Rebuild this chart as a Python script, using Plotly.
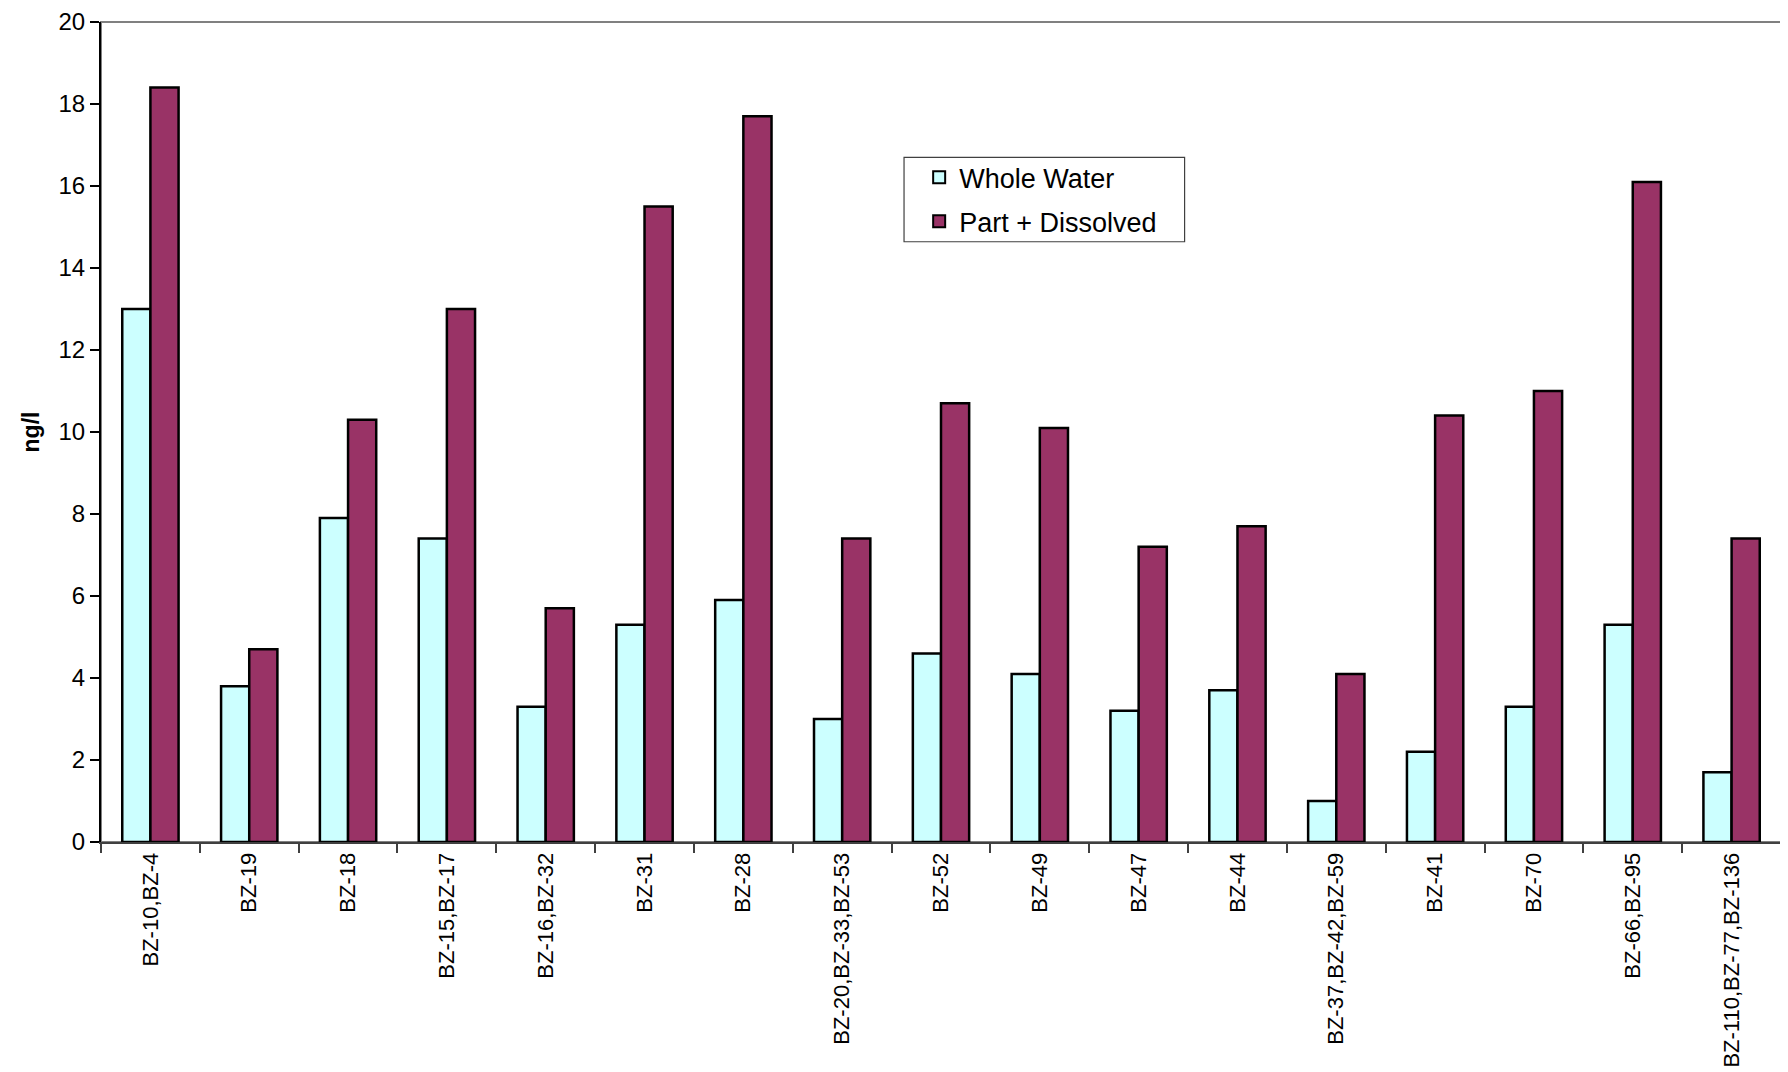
import plotly.graph_objects as go

categories = ["BZ-10,BZ-4", "BZ-19", "BZ-18", "BZ-15,BZ-17", "BZ-16,BZ-32", "BZ-31", "BZ-28",
              "BZ-20,BZ-33,BZ-53", "BZ-52", "BZ-49", "BZ-47", "BZ-44", "BZ-37,BZ-42,BZ-59",
              "BZ-41", "BZ-70", "BZ-66,BZ-95", "BZ-110,BZ-77,BZ-136"]
whole_water = [13.0, 3.8, 7.9, 7.4, 3.3, 5.3, 5.9, 3.0, 4.6, 4.1, 3.2, 3.7, 1.0, 2.2, 3.3, 5.3, 1.7]
part_dissolved = [18.4, 4.7, 10.3, 13.0, 5.7, 15.5, 17.7, 7.4, 10.7, 10.1, 7.2, 7.7, 4.1, 10.4, 11.0, 16.1, 7.4]
y_ticks = [0, 2, 4, 6, 8, 10, 12, 14, 16, 18, 20]

fig = go.Figure()
fig.add_trace(go.Bar(x=categories, y=whole_water, name="Whole Water", legendgroup="a",
                     marker=dict(color="#CCFFFF", line=dict(color="black", width=2.5))))
fig.add_trace(go.Bar(x=categories, y=part_dissolved, name="Part + Dissolved", legendgroup="b",
                     marker=dict(color="#993366", line=dict(color="black", width=2.5))))

fig.update_layout(
    width=1780, height=1064,
    margin=dict(l=93, r=7, t=14, b=230, autoexpand=False),
    paper_bgcolor="white", plot_bgcolor="white",
    barmode="group", bargap=0.43, bargroupgap=0,
    font=dict(family="Liberation Sans, Arial, sans-serif", color="black"),
    showlegend=True,
    legend=dict(x=0.487, y=0.840, xanchor="left", yanchor="top",
                borderwidth=0, bgcolor="rgba(0,0,0,0)",
                font=dict(size=27), itemsizing="constant",
                tracegroupgap=6, itemwidth=30),
    shapes=[
        dict(type="rect", xref="paper", yref="paper", x0=0, y0=0, x1=1, y1=1,
             line=dict(color="#808080", width=2), layer="below"),
        dict(type="rect", xref="paper", yref="paper", x0=0.478, y0=0.732, x1=0.645, y1=0.835,
             line=dict(color="#404040", width=1.2), fillcolor="white", layer="below"),
    ],
)
fig.update_xaxes(
    type="category", tickangle=-90, tickfont=dict(size=22), automargin=False,
    showline=True, linecolor="#404040", linewidth=2,
    ticks="outside", tickson="boundaries", ticklen=9, tickcolor="#404040", tickwidth=1.5,
    showgrid=False, zeroline=False,
)
fig.update_yaxes(
    range=[0, 20], tickvals=y_ticks, tickfont=dict(size=24), automargin=False,
    ticklabeloverflow="allow",
    showline=True, linecolor="black", linewidth=2,
    ticks="outside", ticklen=9, tickcolor="black", tickwidth=1.5,
    showgrid=False, zeroline=False,
    title=dict(text="<b>ng/l</b>", font=dict(size=23), standoff=12),
)

fig.write_html("out.html")
